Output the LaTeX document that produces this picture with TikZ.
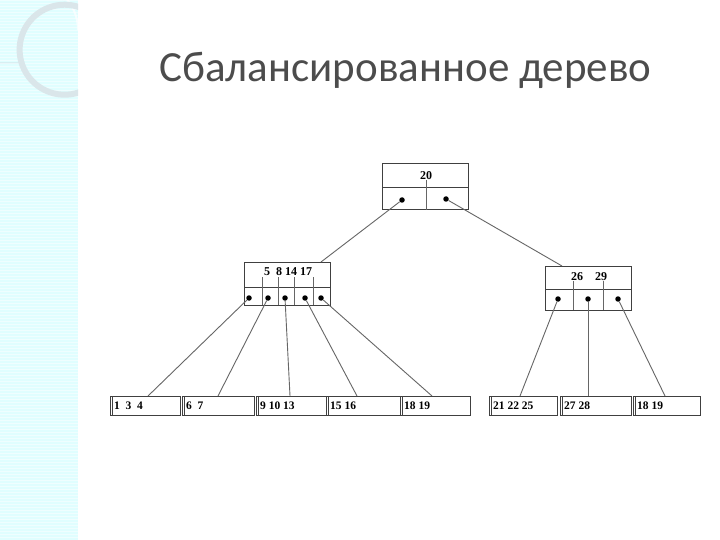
\documentclass[tikz,border=0pt]{standalone}
\usepackage{fontspec}
\setmainfont{Liberation Serif}
\newfontfamily\titlefont{Carlito}
\begin{document}
\begin{tikzpicture}[x=1pt,y=-1pt,
  bx/.style={draw=black!75,line width=1pt},
  ln/.style={draw=black!60,line width=0.9pt},
  dt/.style={circle,fill=black,inner sep=0pt,minimum size=5.5pt},
  lbl/.style={font=\fontsize{12}{13}\selectfont\bfseries,inner sep=0pt},
  leaf/.style={font=\fontsize{11.5}{13}\selectfont\bfseries,inner sep=0pt,anchor=west}]
\useasboundingbox (0,0) rectangle (720,540);
\fill[white] (0,0) rectangle (720,540);
% side strip
\fill[blue!3!cyan!12] (0,0) rectangle (78,540);
\begin{scope}
\clip (0,0) rectangle (78,540);
\foreach \y in {0,3,...,540} \draw[white,opacity=0.5,line width=0.4pt] (0,\y) -- (78,\y);
\draw[white,opacity=0.7,line width=2pt] (78,30) arc[start angle=0,end angle=-90,radius=48];
\draw[cyan!25!gray!40,line width=0.5pt] (0,63) -- (20,63) (63,0) arc[start angle=0,end angle=-70,radius=60];
\draw[cyan!30!gray!25,line width=6pt] (80,92) arc[start angle=70,end angle=290,radius=45];
\end{scope}
% title
\node[font=\titlefont\fontsize{43}{46}\selectfont,text=black!70,anchor=west] (title) at (156,70) {Сбалансированное дерево};
% root
\draw[bx] (382,164) rectangle (468,210); \draw[bx] (382,188) -- (468,188);
\draw[ln] (426,180) -- (426,210);
\node[lbl] (k20) at (426,176) {20};
\node[dt] (r1) at (402,200) {}; \node[dt] (r2) at (446,199) {};
% left node
\draw[bx] (244,262) rectangle (330,305); \draw[bx] (244,287) -- (330,287);
\foreach \x in {262,278,294,313} \draw[ln] (\x,277) -- (\x,305);
\node[lbl] at (288,272) {5\ \ 8\ 14\ 17};
\foreach \x/\n in {249/a1,268/a2,285/a3,305/a4,321/a5} \node[dt] (\n) at (\x,298) {};
% right node
\draw[bx] (545,266) rectangle (631,310); \draw[bx] (545,289) -- (631,289);
\foreach \x in {573,603} \draw[ln] (\x,281) -- (\x,310);
\node[lbl] at (589,277) {26\quad 29};
\foreach \x/\n in {558/b1,588/b2,618/b3} \node[dt] (\n) at (\x,299) {};
\coordinate (lt) at (321,262); \coordinate (rt) at (562,266);
\draw[ln] (r1) -- (lt); \draw[ln] (r2) -- (rt);
% leaves
\foreach \xa/\xb/\t/\n/\cx in {110/180/1\ \ 3\ \ 4/l1/148,182/254/6\ \ 7/l2/218,256/326/9 10 13/l3/290,326/400/15 16/l4/357,400/470/18 19/l5/432,489/557/21 22 25/l6/520,560/631/27 28/l7/588,633/700/18 19/l8/665}{
  \draw[bx] (\xa,396) rectangle (\xb,415);
  \draw[bx,line width=0.5pt] (\xa+2,396) -- (\xa+2,415);
  \node[leaf] at (\xa+4,405.5) {\t};
  \coordinate (\n) at (\cx,396);
}
\foreach \s/\d in {a1/l1,a2/l2,a3/l3,a4/l4,a5/l5,b1/l6,b2/l7,b3/l8} \draw[ln] (\s) -- (\d);
\end{tikzpicture}
\end{document}
